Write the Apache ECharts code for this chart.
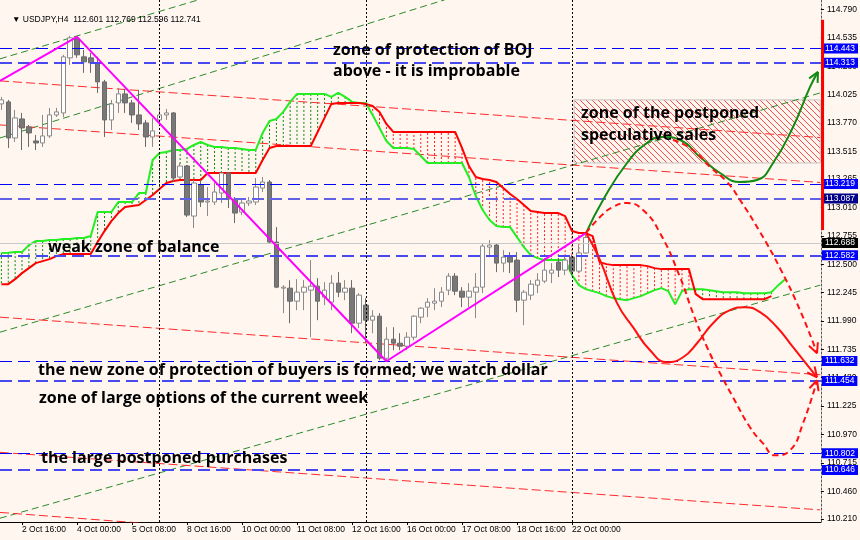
<!DOCTYPE html>
<html><head><meta charset="utf-8">
<script src="https://cdn.jsdelivr.net/npm/echarts@6/dist/echarts.min.js"></script>
<style>html,body{margin:0;padding:0;background:#fff6f0}#c{width:860px;height:540px}</style>
</head><body><div id="c"></div>
<script>
// ---------------- DATA ----------------
const symbolName = 'USDJPY,H4';
const barStart = -3; // bar index of first candle (0 = 2 Oct 16:00)
const candleOpen = [113.941,113.959,113.635,113.806,113.734,113.608,113.590,113.653,113.842,113.860,114.355,114.526,114.364,114.355,114.310,114.139,113.797,113.950,114.031,113.950,113.842,113.770,113.644,113.797,113.842,113.860,113.284,113.383,112.933,113.212,113.059,113.059,113.140,113.320,113.086,112.969,113.050,113.059,113.185,113.239,112.699,112.285,112.285,112.168,112.249,112.267,112.303,112.204,112.159,112.330,112.249,112.285,111.970,112.132,111.997,112.033,111.655,111.826,111.790,111.763,111.844,112.024,112.114,112.150,112.168,112.267,112.393,112.258,112.204,112.249,112.294,112.654,112.672,112.510,112.564,112.537,112.177,112.222,112.312,112.348,112.420,112.519,112.447,112.564,112.438,112.601];
const candleClose = [113.977,113.635,113.815,113.725,113.680,113.590,113.653,113.842,113.869,114.364,114.535,114.382,114.319,114.310,114.139,113.797,113.941,114.031,113.950,113.842,113.761,113.644,113.698,113.842,113.860,113.275,113.383,112.942,113.230,113.059,113.068,113.149,113.320,113.086,112.960,113.050,113.068,113.194,113.239,112.699,112.294,112.294,112.168,112.249,112.294,112.303,112.168,112.267,112.330,112.249,112.285,111.970,112.222,111.997,112.033,111.655,111.826,111.790,111.763,111.844,112.033,112.105,112.159,112.168,112.249,112.393,112.258,112.204,112.258,112.294,112.663,112.672,112.510,112.564,112.519,112.177,112.249,112.321,112.357,112.447,112.447,112.447,112.537,112.438,112.601,112.741];
const candleHigh = [114.004,113.977,113.887,113.860,113.752,113.662,113.842,113.905,113.905,114.382,114.553,114.544,114.427,114.400,114.364,114.157,113.977,114.085,114.076,113.977,114.067,113.797,113.815,113.932,113.896,113.869,113.410,113.392,113.257,113.257,113.194,113.257,113.320,113.329,113.104,113.095,113.104,113.275,113.284,113.257,112.834,112.312,112.357,112.366,112.357,112.537,112.375,112.339,112.402,112.429,112.357,112.357,112.240,112.195,112.087,112.060,111.934,111.934,111.880,111.889,112.042,112.114,112.195,112.285,112.294,112.420,112.420,112.294,112.330,112.420,112.690,112.717,112.690,112.627,112.609,112.609,112.267,112.357,112.420,112.537,112.510,112.555,112.582,112.582,112.672,112.769];
const candleLow = [113.887,113.545,113.599,113.527,113.554,113.527,113.554,113.635,113.824,113.824,114.292,114.355,114.220,114.220,114.040,113.644,113.707,113.860,113.860,113.770,113.707,113.554,113.554,113.770,113.797,113.239,113.275,112.924,112.825,113.014,112.933,113.032,113.050,113.005,112.870,112.942,113.023,113.032,113.149,112.690,112.285,112.060,111.970,112.087,112.087,111.844,111.997,112.132,112.087,112.204,112.177,111.880,111.925,111.790,111.880,111.637,111.628,111.727,111.727,111.727,111.817,111.970,112.024,112.087,112.114,112.222,112.222,112.114,112.114,112.015,112.240,112.564,112.429,112.429,112.420,112.069,111.952,112.177,112.240,112.330,112.330,112.384,112.402,112.402,112.420,112.596];

const timeTickIndex = [-8,0,8,16,24,32,40,48,56,64,72,80];
const timeTickLabels = ['1 Oct 08:00','2 Oct 16:00','4 Oct 00:00','5 Oct 08:00','8 Oct 16:00','10 Oct 00:00','11 Oct 08:00','12 Oct 16:00','16 Oct 00:00','17 Oct 08:00','18 Oct 16:00','22 Oct 00:00'];
const priceTicks = [114.790,114.535,114.280,114.025,113.770,113.515,113.265,113.010,112.755,112.500,112.245,111.990,111.735,111.480,111.225,110.970,110.715,110.460,110.210];

const cloudStart = -3;
const spanA = [112.600,112.604,112.609,112.609,112.672,112.708,112.708,112.717,112.717,112.726,112.726,112.735,112.735,112.753,112.969,112.969,112.969,113.059,113.059,113.059,113.140,113.140,113.437,113.500,113.509,113.527,113.527,113.536,113.572,113.599,113.572,113.554,113.554,113.545,113.545,113.536,113.527,113.527,113.680,113.788,113.806,113.869,113.959,114.031,114.031,114.031,114.031,114.031,114.004,114.040,114.004,113.959,113.950,113.950,113.842,113.725,113.608,113.545,113.545,113.545,113.536,113.473,113.410,113.410,113.410,113.410,113.410,113.410,113.284,113.113,112.987,112.897,112.843,112.834,112.834,112.744,112.654,112.582,112.555,112.537,112.537,112.537,112.537,112.402,112.312,112.276,112.258,112.240,112.213,112.195,112.186,112.177,112.195,112.213,112.240,112.267,112.285,112.258,112.141,112.258,112.276,112.276,112.276,112.267,112.258,112.249,112.249,112.249,112.240,112.240,112.240,112.240,112.249,112.312,112.366];
const spanB = [112.321,112.321,112.366,112.420,112.465,112.510,112.528,112.546,112.573,112.591,112.591,112.591,112.591,112.591,112.699,112.798,112.888,112.960,113.014,113.023,113.032,113.077,113.122,113.176,113.230,113.248,113.257,113.257,113.257,113.257,113.320,113.320,113.320,113.320,113.320,113.320,113.320,113.320,113.437,113.545,113.563,113.563,113.563,113.563,113.563,113.563,113.689,113.815,113.941,113.950,113.950,113.950,113.950,113.941,113.923,113.869,113.761,113.689,113.689,113.689,113.689,113.689,113.689,113.689,113.689,113.689,113.689,113.545,113.383,113.284,113.266,113.257,113.239,113.185,113.131,113.086,113.032,112.978,112.969,112.960,112.960,112.960,112.933,112.798,112.780,112.780,112.753,112.519,112.501,112.492,112.492,112.492,112.492,112.492,112.483,112.465,112.456,112.456,112.456,112.456,112.456,112.231,112.186,112.186,112.186,112.186,112.186,112.186,112.186,112.186,112.186,112.186,112.213];

const weekSeparators = [20, 50, 80];
const levelPrices = [114.443,114.313,113.219,113.087,112.582,111.632,111.454,110.802,110.646];
const lastPrice = 112.688;

const zigzag = [[-3.2,114.148],[8,114.544],[53,111.628],[82,112.780]];
const greenChannel = [
  [[-3.2,114.346],[40.4,115.147]],
  [[-3.2,113.635],[61.5,114.877]],
  [[-3.2,111.889],[116.1,114.040]],
  [[-3.2,110.217],[116.1,112.312]]
];
const redChannel = [
  [[-3.2,114.148],[116.1,113.639]],
  [[-3.2,113.752],[116.1,113.235]],
  [[-3.2,112.024],[116.1,111.507]],
  [[-3.2,110.809],[116.1,110.292]],
  [[-3.2,110.269],[25.9,110.134]]
];
const salesZone = [80.3,113.977,116.1,113.410];
const edgeBar = [116.44,114.697,112.807];

const bullPath = [[82.04,112.780],[84.51,113.077],[88.0,113.410],[90.91,113.590],[93.24,113.644],[95.71,113.617],[98.62,113.464],[101.53,113.320],[104.44,113.239],[106.91,113.257],[109.24,113.410],[112.15,113.734],[114.62,114.094],[115.78,114.229]];
const bearPathA = [[82.04,112.780],[84.07,112.924],[85.96,113.014],[88.0,113.050],[90.33,112.987],[92.8,112.780],[95.71,112.384],[97.6,112.060],[99.64,111.754],[101.53,111.520],[103.42,111.304],[105.89,111.034],[107.78,110.890],[109.53,110.782],[111.71,110.827],[113.6,111.070],[115.64,111.457]];
const bearPathB = [[82.04,112.780],[84.07,112.537],[86.55,112.150],[88.87,111.934],[91.35,111.727],[93.82,111.619],[96.15,111.664],[98.18,111.790],[100.51,111.970],[102.98,112.087],[105.16,112.114],[107.35,112.069],[109.82,111.934],[112.15,111.754],[115.64,111.484]];
const bearPathC = [[94.69,113.617],[97.6,113.527],[100.07,113.374],[102.55,113.239],[104.44,113.077],[107.35,112.789],[110.25,112.465],[113.16,112.087],[115.64,111.700]];

const noteIndex = [45.24,45.24,81.3,81.3,3.78,2.33,2.47,2.76];
const notePrice = [114.418,114.229,113.851,113.662,112.654,111.547,111.295,110.755];
const noteText = ['zone of protection of BOJ','above - it is improbable','zone of the postponed','speculative sales','weak zone of balance','the new zone of protection of buyers is formed; we watch dollar','zone of large options of the current week','the large postponed purchases'];

// ---------------- STYLE / BUILD ----------------
const X_MIN = -3.2, X_MAX = 116.2, Y_MIN = 110.183, Y_MAX = 114.875;
const AX_FONT = '"Liberation Sans", Arial, sans-serif';
const NOTE_FONT = 'bold 16px "Comic Sans MS", "Open Sans", sans-serif';
const levelStyle = [
  {c:'#0000ff',w:1,bg:'#0000ff'},{c:'#4848f0',w:2,bg:'#0000ff'},
  {c:'#0000ff',w:1,bg:'#0000ff'},{c:'#6060e8',w:2,bg:'#000088'},
  {c:'#4848f0',w:2,bg:'#0000ff'},{c:'#0000ff',w:1,bg:'#0000ff'},
  {c:'#4848f0',w:2,bg:'#0000ff'},{c:'#0000ff',w:1,bg:'#0000ff'},
  {c:'#4848f0',w:2,bg:'#0000ff'}
];

const candles = candleOpen.map((o,k)=>[barStart+k,o,candleClose[k],candleLow[k],candleHigh[k]]);
const last = candles.length-1;
const headerText = '\u25BC ' + symbolName + '  ' + candleOpen[last].toFixed(3) + ' ' + candleHigh[last].toFixed(3) + ' ' + candleLow[last].toFixed(3) + ' ' + candleClose[last].toFixed(3);

const tickLabelMap = {};
timeTickIndex.forEach((v,k)=>{tickLabelMap[v]=timeTickLabels[k];});

const cloudData = spanA.map((a,k)=>[cloudStart+k,a,spanB[k]]);

const pat = document.createElement('canvas');
pat.width = 6; pat.height = 6;
const g = pat.getContext('2d');
g.strokeStyle = '#ff4a4a'; g.lineWidth = 1;
g.beginPath();
g.moveTo(-1,-1); g.lineTo(7,7);
g.moveTo(-1,5); g.lineTo(1,7);
g.moveTo(5,-1); g.lineTo(7,1);
g.stroke();

const markLineData = [];
levelPrices.forEach((p,k)=>{
  const s = levelStyle[k];
  markLineData.push({yAxis:p, lineStyle:{color:s.c,width:s.w,type:[12,6]},
    label:{show:true,position:'end',distance:1,formatter:p.toFixed(3),color:'#fff',backgroundColor:s.bg,
      padding:[1,3,0,3],fontSize:8.5,lineHeight:9,fontFamily:AX_FONT}});
});
markLineData.push({yAxis:lastPrice, lineStyle:{color:'#c8c8c8',width:1,type:'solid'},
  label:{show:true,position:'end',distance:1,formatter:lastPrice.toFixed(3),color:'#fff',backgroundColor:'#000',
    padding:[1,3,0,3],fontSize:8.5,lineHeight:9,fontFamily:AX_FONT}});
weekSeparators.forEach(i=>{
  markLineData.push({xAxis:i, lineStyle:{color:'#000',width:1,type:[2,2]}, label:{show:false}});
});

const series = [];

// cloud hatches
series.push({type:'custom', z:1, silent:true, data:cloudData, encode:{x:0,y:[1,2]}, clip:true,
  renderItem:(params,api)=>{
    const i=api.value(0), a=api.value(1), b=api.value(2);
    const p1=api.coord([i,a]), p2=api.coord([i,b]);
    return {type:'line', shape:{x1:p1[0],y1:p1[1],x2:p2[0],y2:p2[1]},
      style:{stroke: a>=b ? '#0a8a0a' : '#ff2020', lineWidth:1, lineDash:[2,2]}};
  }});

// sales zone
series.push({type:'custom', z:1, silent:true, data:[salesZone], clip:true,
  renderItem:(params,api)=>{
    const p1=api.coord([api.value(0),api.value(1)]), p2=api.coord([api.value(2),api.value(3)]);
    return {type:'rect', shape:{x:p1[0],y:p1[1],width:p2[0]-p1[0],height:p2[1]-p1[1]},
      style:{fill:{image:pat,repeat:'repeat'}, stroke:'#c4c4c4', lineWidth:1}};
  }});

greenChannel.forEach(l=>series.push({type:'line',z:2,silent:true,symbol:'none',data:l,
  lineStyle:{color:'#2a8a2a',width:1,type:[7,4]}}));
redChannel.forEach(l=>series.push({type:'line',z:2,silent:true,symbol:'none',data:l,
  lineStyle:{color:'#ff2a2a',width:1,type:[9,4]}}));

// spans
series.push({type:'line',z:3,silent:true,symbol:'none',data:spanA.map((v,k)=>[cloudStart+k,v]),lineStyle:{color:'#22ee22',width:2}});
series.push({type:'line',z:3,silent:true,symbol:'none',data:spanB.map((v,k)=>[cloudStart+k,v]),lineStyle:{color:'#ff0000',width:2}});

// candles
series.push({type:'candlestick', z:4, silent:true, data:candles, encode:{x:0,y:[1,2,3,4]}, barWidth:5,
  itemStyle:{color:'#ffffff',color0:'#787878',borderColor:'#8a8a8a',borderColor0:'#6a6a6a',borderWidth:1},
  markLine:{silent:true,symbol:['none','none'],animation:false,data:markLineData}});

// zigzag
series.push({type:'line',z:5,silent:true,symbol:'none',data:zigzag,lineStyle:{color:'#ff00ff',width:2}});

// projection curves
const curves = [
  {d:bullPath,c:'#138a13',dash:'solid'},
  {d:bearPathA,c:'#ff1010',dash:[6,4]},
  {d:bearPathB,c:'#ff1010',dash:'solid'},
  {d:bearPathC,c:'#ff1010',dash:[6,4]}
];
curves.forEach(cv=>series.push({type:'line',z:6,silent:true,symbol:'none',smooth:0.5,data:cv.d,clip:false,
  lineStyle:{color:cv.c,width:2,type:cv.dash}}));
series.push({type:'custom', z:6, silent:true, clip:false, data:curves.map((cv,k)=>[k]),
  renderItem:(params,api)=>{
    const cv = curves[params.dataIndex];
    const n = cv.d.length;
    const p1 = api.coord(cv.d[n-1]), p0 = api.coord(cv.d[n-2]);
    const ang = Math.atan2(p1[1]-p0[1], p1[0]-p0[0]);
    const L = 11, a = 0.45;
    const mk = s => ({type:'line', shape:{x1:p1[0],y1:p1[1],x2:p1[0]-L*Math.cos(ang+s*a),y2:p1[1]-L*Math.sin(ang+s*a)},
      style:{stroke:cv.c,lineWidth:2}});
    return {type:'group', children:[mk(1),mk(-1)]};
  }});

// red edge bar
series.push({type:'custom', z:6, silent:true, clip:false, data:[edgeBar],
  renderItem:(params,api)=>{
    const p1=api.coord([api.value(0),api.value(1)]), p2=api.coord([api.value(0),api.value(2)]);
    return {type:'line', shape:{x1:p1[0],y1:p1[1],x2:p2[0],y2:p2[1]}, style:{stroke:'#ff0000',lineWidth:3}};
  }});

// notes
series.push({type:'custom', z:7, silent:true, clip:false, data:noteIndex.map((v,k)=>[v,notePrice[k]]),
  renderItem:(params,api)=>{
    const p=api.coord([api.value(0),api.value(1)]);
    return {type:'text', x:p[0], y:p[1], style:{text:noteText[params.dataIndex], font:NOTE_FONT, fill:'#000', align:'left', verticalAlign:'middle'}};
  }});

const option = {
  animation:false,
  backgroundColor:'#fff6f0',
  title:{text:headerText, left:7, top:10, textStyle:{fontSize:8.5,fontWeight:'normal',color:'#000',fontFamily:AX_FONT}},
  grid:{left:0,right:39,top:0,bottom:18,containLabel:false},
  xAxis:{type:'value',min:X_MIN,max:X_MAX,splitLine:{show:false},
    axisLine:{show:true,onZero:false,lineStyle:{color:'#000',width:1}},
    axisTick:{show:true,customValues:timeTickIndex,length:3,lineStyle:{color:'#000'}},
    axisLabel:{customValues:timeTickIndex,formatter:v=>tickLabelMap[Math.round(v)]||'',align:'left',margin:3,
      fontSize:8.5,color:'#000',fontFamily:AX_FONT,hideOverlap:false,showMinLabel:true,showMaxLabel:true}},
  yAxis:{type:'value',position:'right',min:Y_MIN,max:Y_MAX,splitLine:{show:false},
    axisLine:{show:true,onZero:false,lineStyle:{color:'#555',width:1,type:[2,2]}},
    axisTick:{show:true,customValues:priceTicks,length:3,lineStyle:{color:'#000'}},
    axisLabel:{customValues:priceTicks,formatter:v=>v.toFixed(3),margin:6,fontSize:8.5,color:'#000',fontFamily:AX_FONT,hideOverlap:false}},
  series
};
const chart = echarts.init(document.getElementById('c'));
chart.setOption(option);
</script></body></html>
